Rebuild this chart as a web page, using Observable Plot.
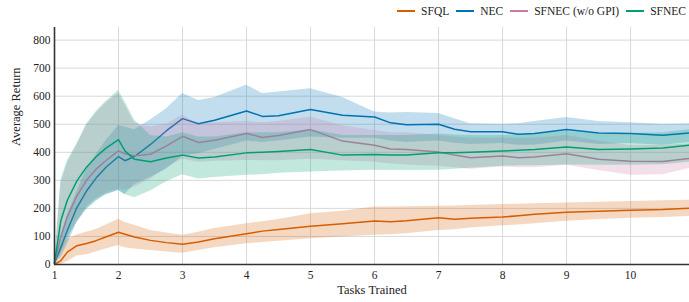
<!DOCTYPE html>
<html>
<head>
<meta charset="utf-8">
<script src="https://cdn.jsdelivr.net/npm/d3@7"></script>
<script src="https://cdn.jsdelivr.net/npm/@observablehq/plot@0.6"></script>
<style>
  html, body { margin: 0; padding: 0; background: #fff; }
  #legend { height: 22px; width: 689px; display: flex; justify-content: flex-end; align-items: center;
    font-family: "Liberation Serif", "Times New Roman", serif; font-size: 11.5px; color: #222; box-sizing: border-box; padding-right: 3px; }
  .item { display: flex; align-items: center; margin-left: 7px; }
  .sw { width: 18px; height: 2px; margin-right: 6px; }
  #chart svg { display: block; }
</style>
</head>
<body>
<div id="legend"></div>
<div id="chart"></div>
<script>
// ---- data ----
const seriesNames = ["SFQL", "NEC", "SFNEC (w/o GPI)", "SFNEC"];
const seriesColors = ["#d55e00", "#0072b2", "#cc79a7", "#009e73"];
const tasks = [1, 1.1, 1.2, 1.35, 1.5, 1.65, 1.8, 2, 2.1, 2.25, 2.5, 2.75, 3, 3.25, 3.5, 4, 4.25, 4.5, 5, 5.5, 6, 6.25, 6.5, 7, 7.25, 7.5, 8, 8.25, 8.5, 9, 9.5, 10, 10.5, 10.92];

const sfqlMean = [0, 14, 44, 67, 75, 85, 98, 115, 108, 98, 86, 78, 72, 80, 92, 110, 119, 125, 136, 145, 155, 152, 156, 167, 161, 165, 169, 174, 179, 186, 190, 193, 196, 201];
const sfqlLow  = [0, 0, 10, 30, 35, 45, 55, 68, 60, 55, 50, 45, 40, 50, 60, 74, 78, 83, 92, 98, 104, 106, 110, 121, 124, 130, 138, 141, 145, 154, 160, 165, 168, 171];
const sfqlHigh = [0, 60, 90, 105, 115, 125, 140, 161, 150, 140, 121, 112, 104, 115, 128, 145, 152, 160, 181, 190, 205, 205, 206, 208, 209, 210, 214, 215, 217, 219, 222, 225, 227, 229];

const necMean = [5, 62, 121, 203, 262, 308, 346, 385, 370, 385, 428, 477, 520, 502, 514, 547, 528, 530, 553, 532, 526, 505, 498, 500, 482, 473, 473, 464, 467, 481, 469, 467, 461, 469];
const necLow  = [5, 25, 70, 150, 195, 225, 248, 264, 250, 285, 310, 340, 385, 395, 410, 440, 435, 440, 455, 450, 450, 440, 435, 440, 432, 428, 431, 425, 425, 440, 428, 431, 425, 435];
const necHigh = [5, 100, 175, 260, 340, 390, 440, 496, 490, 480, 515, 555, 610, 585, 595, 639, 610, 615, 627, 595, 544, 540, 542, 538, 520, 502, 500, 502, 510, 524, 510, 505, 500, 502];

const noGpiMean = [5, 100, 170, 245, 300, 340, 370, 405, 395, 388, 393, 423, 457, 435, 443, 467, 453, 460, 481, 440, 425, 412, 410, 401, 390, 381, 387, 381, 383, 395, 375, 368, 367, 378];
const noGpiLow  = [5, 45, 95, 155, 205, 235, 255, 270, 265, 275, 305, 345, 375, 365, 368, 371, 370, 370, 375, 370, 365, 358, 355, 350, 345, 340, 348, 345, 345, 354, 335, 318, 320, 342];
const noGpiHigh = [5, 290, 360, 425, 495, 540, 575, 610, 570, 505, 490, 500, 532, 500, 505, 510, 505, 510, 525, 495, 478, 470, 470, 460, 455, 450, 450, 450, 450, 460, 440, 423, 425, 430];

const sfnecMean = [5, 157, 229, 298, 347, 384, 414, 445, 405, 375, 366, 380, 390, 380, 383, 398, 400, 403, 410, 390, 392, 390, 390, 398, 398, 400, 405, 407, 410, 419, 410, 412, 415, 425];
const sfnecLow  = [5, 40, 90, 150, 200, 230, 250, 264, 250, 238, 262, 295, 320, 305, 310, 318, 320, 325, 330, 333, 336, 335, 335, 336, 340, 343, 350, 352, 352, 355, 354, 354, 356, 365];
const sfnecHigh = [5, 300, 370, 430, 500, 545, 580, 620, 580, 515, 460, 455, 470, 455, 455, 470, 470, 470, 480, 460, 460, 460, 460, 465, 462, 460, 460, 462, 465, 475, 465, 467, 470, 480];

const xTicks = [1, 2, 3, 4, 5, 6, 7, 8, 9, 10];
const yTicks = [0, 100, 200, 300, 400, 500, 600, 700, 800];
const xLabel = "Tasks Trained";
const yLabel = "Average Return";

// ---- build table ----
const groups = [
  [sfqlMean, sfqlLow, sfqlHigh],
  [necMean, necLow, necHigh],
  [noGpiMean, noGpiLow, noGpiHigh],
  [sfnecMean, sfnecLow, sfnecHigh]
];
const tables = groups.map(([m, lo, hi], s) =>
  tasks.map((x, i) => ({x, mean: m[i], lo: lo[i], hi: hi[i], series: seriesNames[s]})));

// legend
const legend = document.getElementById("legend");
seriesNames.forEach((n, i) => {
  const it = document.createElement("div");
  it.className = "item";
  it.innerHTML = `<span class="sw" style="background:${seriesColors[i]}"></span><span>${n}</span>`;
  legend.appendChild(it);
});

const marks = [
  Plot.gridX(xTicks, {stroke: "#d9d9d9", strokeOpacity: 1, strokeWidth: 1}),
  Plot.gridY(yTicks, {stroke: "#d9d9d9", strokeOpacity: 1, strokeWidth: 1}),
];
tables.forEach((t, s) => {
  marks.push(Plot.areaY(t, {x: "x", y1: "lo", y2: "hi", fill: seriesColors[s], fillOpacity: 0.24}));
  marks.push(Plot.lineY(t, {x: "x", y: "mean", stroke: seriesColors[s], strokeWidth: 1.5}));
});
marks.push(
  Plot.ruleY([0], {stroke: "#333", strokeWidth: 1.6}),
  Plot.ruleX([1], {stroke: "#333", strokeWidth: 1.6}),
  Plot.axisX(xTicks, {tickSize: 0, tickPadding: 6, label: null, fontSize: 11.5}),
  Plot.axisY(yTicks, {tickSize: 0, tickPadding: 4, label: null, fontSize: 11.5}),
  Plot.text([xLabel], {text: d => d, frameAnchor: "bottom", dy: 29, fontSize: 12.5}),
  Plot.text([yLabel], {text: d => d, frameAnchor: "left", dx: -39, rotate: -90, fontSize: 12.5})
);

const chart = Plot.plot({
  width: 689,
  height: 280,
  marginTop: 5,
  marginBottom: 38,
  marginLeft: 54,
  marginRight: 0,
  x: {domain: [1, 10.92]},
  y: {domain: [0, 845]},
  style: {fontFamily: "'Liberation Serif', 'Times New Roman', serif", background: "#fff", color: "#222", overflow: "visible"},
  marks
});
document.getElementById("chart").appendChild(chart);
</script>
</body>
</html>
